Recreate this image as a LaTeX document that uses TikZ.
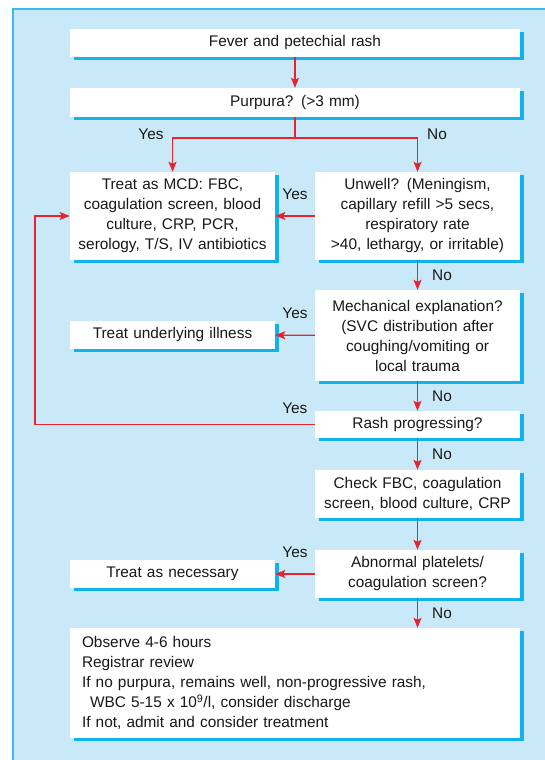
\documentclass[tikz,border=0pt]{standalone}
\usepackage{fontspec}
\setmainfont{Liberation Sans}
\usetikzlibrary{positioning,arrows.meta,shadows}
\definecolor{panelblue}{HTML}{C9E9F8}
\definecolor{rimblue}{HTML}{3CB9EA}
\definecolor{shadecyan}{HTML}{12B3EC}
\definecolor{arrred}{HTML}{E8232D}
\definecolor{inkgrey}{HTML}{1A1718}

\begin{document}
\begin{tikzpicture}[x=1pt,y=-1pt,
  box/.style={fill=white,inner sep=4pt,align=center,text=inkgrey,font=\fontsize{15.4}{20}\selectfont,
    drop shadow={shadow xshift=3.5pt,shadow yshift=-3pt,opacity=1,fill=shadecyan}},
  narrow/.style={box,minimum width=205pt,text width=195pt},
  wide/.style={box,minimum width=450pt,text width=440pt},
  lab/.style={font=\fontsize{15.4}{20}\selectfont,text=inkgrey,inner sep=1pt},
  arr/.style={-{Stealth[length=10pt,width=8pt,inset=2pt]},arrred,line width=1.3pt}]
  \useasboundingbox (0,0) rectangle (545,760);
  \draw[rimblue,fill=panelblue,line width=1.2pt] (13,9) rectangle (565,780);
  \node[wide,minimum height=28pt] (fever) at (295,43) {Fever and petechial rash};
  \node[wide,minimum height=29pt] (purpura) at (295,102.5) {Purpura? (>3 mm)};
  \node[narrow,minimum height=88pt] (mcd) at (172.5,216) {Treat as MCD: FBC,\\coagulation screen, blood\\culture, CRP, PCR,\\serology, T/S, IV antibiotics};
  \node[narrow,minimum height=88pt] (unwell) at (417.5,216) {Unwell? (Meningism,\\capillary refill >5 secs,\\respiratory rate\\>40, lethargy, or irritable)};
  \node[narrow,minimum height=91pt] (mech) at (417.5,335.5) {Mechanical explanation?\\(SVC distribution after\\coughing/vomiting or\\local trauma};
  \node[narrow,minimum height=28pt] (illness) at (172.5,335) {Treat underlying illness};
  \node[narrow,minimum height=27pt] (rash) at (417.5,424.5) {Rash progressing?};
  \node[narrow,minimum height=48pt] (check) at (417.5,494) {Check FBC, coagulation\\screen, blood culture, CRP};
  \node[narrow,minimum height=48pt] (abnormal) at (417.5,574) {Abnormal platelets/\\coagulation screen?};
  \node[narrow,minimum height=28pt] (necessary) at (172.5,574) {Treat as necessary};
  \node[wide,minimum height=110pt,align=left,text width=426pt] (observe) at (295,683) {Observe 4-6 hours\\Registrar review\\If no purpura, remains well, non-progressive rash,\\\hspace*{8pt}WBC 5-15 x 10\textsuperscript{9}/l, consider discharge\\If not, admit and consider treatment};
  \coordinate (split) at (295,138);
  \coordinate (loop) at (35,424.5);
  \node[lab] (yessplit) at (151,134) {Yes};
  \node[lab] (nosplit) at (437,134) {No};
  \draw[arr] (fever) -- (purpura);
  \draw[arrred,line width=1.3pt] (purpura) -- (split);
  \draw[arr] (split) -| (mcd.north);
  \draw[arr] (split) -| (unwell.north);
  \draw[arr] (unwell) -- (mcd) node[lab,midway,above=14.5pt] {Yes};
  \draw[arr] (unwell) -- (mech) node[lab,midway,right=13pt] {No};
  \draw[arr] (mech) -- (illness) node[lab,midway,above=14.5pt] {Yes};
  \draw[arr] (mech) -- (rash) node[lab,midway,right=13pt] {No};
  \draw[arr] (rash.west) -- (loop) node[lab,pos=0.0714,above=9.5pt] {Yes} |- (mcd.west);
  \draw[arr] (rash) -- (check) node[lab,midway,right=13pt] {No};
  \draw[arr] (check) -- (abnormal);
  \draw[arr] (abnormal) -- (necessary) node[lab,midway,above=14.5pt] {Yes};
  \draw[arr] (abnormal.south) -- (abnormal.south |- observe.north) node[lab,midway,right=13pt] {No};
\end{tikzpicture}
\end{document}
